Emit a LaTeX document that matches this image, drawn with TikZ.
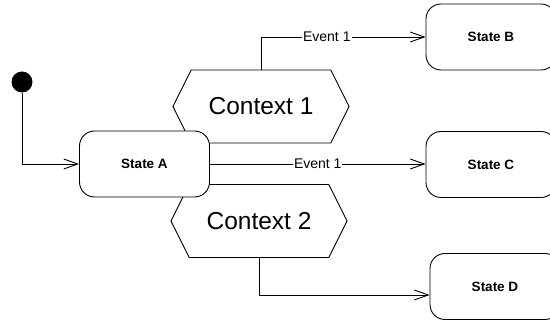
\documentclass[tikz,border=0pt]{standalone}
\usepackage{fontspec}
\setmainfont{Liberation Sans}
\usetikzlibrary{arrows.meta,positioning,shapes.symbols}

\begin{document}
\begin{tikzpicture}[
        x=1pt, y=-1pt,
        state/.style={
            draw, rounded corners=15pt, fill=white, line width=0.9pt,
            minimum width=130pt, minimum height=66pt,
            font=\fontsize{13.5}{16}\selectfont\bfseries
        },
        context/.style={
            draw, fill=white, line width=0.9pt, shape=signal,
            signal to=west and east, signal pointer angle=127,
            minimum width=176pt, minimum height=73pt, inner sep=0pt,
            font=\fontsize{24.5}{28}\selectfont
        },
        initial/.style={circle, fill=black, minimum size=21pt, inner sep=0pt},
        trans/.style={-{Straight Barb[length=14pt,width=10pt]}, line width=0.9pt},
        evt/.style={fill=white, inner sep=1pt, font=\fontsize{14}{16}\selectfont}
    ]
    \useasboundingbox (0,0) rectangle (550,320);

    % Contexts
    \node[context] (ctx1) at (261,106.5) {Context 1};
    \node[context] (ctx2) at (259,221) {Context 2};

    % States
    \node[initial] (init) at (22,82) {};
    \node[state] (stateA) at (144.5,164) {State A};
    \node[state] (stateB) at (491,37) {State B};
    \node[state] (stateC) at (491,164.5) {State C};
    \node[state] (stateD) at (495,286.5) {State D};

    % Transitions
    \draw[trans] (init) |- (stateA);
    \draw[trans] (ctx1.north) |- node[evt, pos=0.7]{Event 1} (stateB.west);
    \draw[trans] (stateA.east) -- node[evt]{Event 1} (stateA.east -| stateC.west);
    \draw[trans] (ctx2.south) |- ([yshift=-8.5pt]stateD.west);

\end{tikzpicture}
\end{document}
